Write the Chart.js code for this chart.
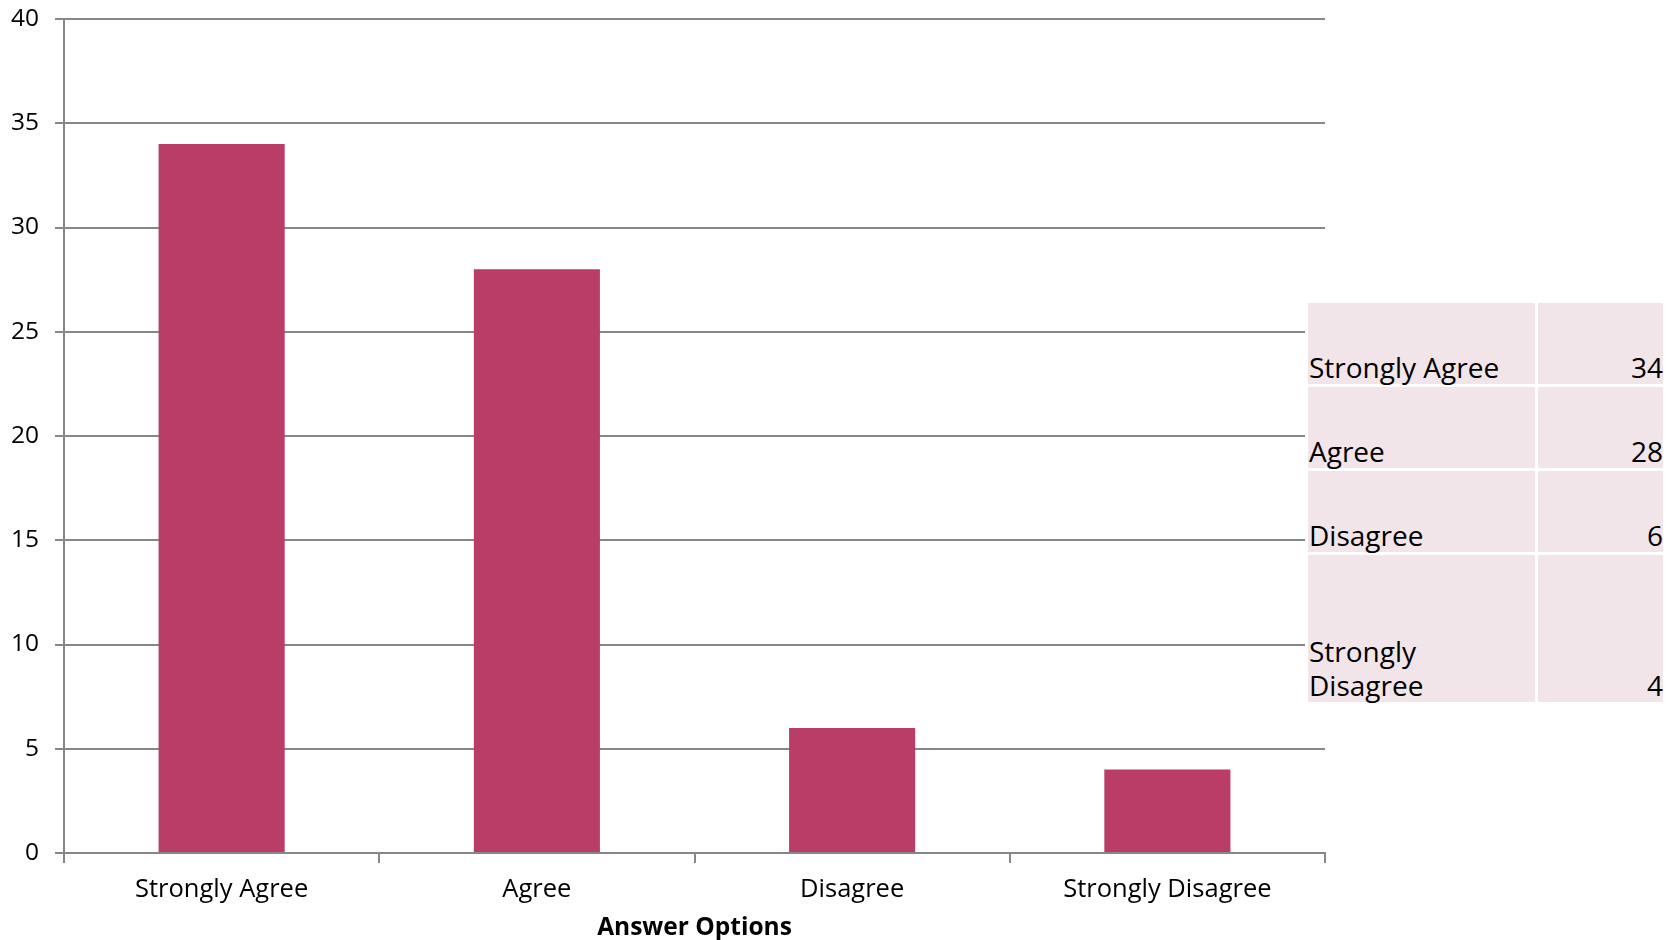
<!DOCTYPE html>
<html>
<head>
<meta charset="utf-8">
<script src="https://cdn.jsdelivr.net/npm/chart.js@4/dist/chart.umd.min.js"></script>
<style>
  html, body { margin: 0; padding: 0; background: #ffffff; }
  #wrap { position: relative; width: 1672px; height: 940px; }
  #chart { position: absolute; left: 0; top: 0; }
  #dataTable {
    position: absolute; left: 1305px; top: 300px;
    border-collapse: separate; border-spacing: 3px;
    background: #ffffff;
    font-family: "Open Sans", sans-serif; font-size: 28px; color: #000;
  }
  #dataTable td {
    background: #f2e5ea; vertical-align: bottom;
    line-height: 34px;
  }
  #dataTable td.label { width: 192px; padding: 0 34px 0 1px; }
  #dataTable td.value { width: 125px; padding: 0; text-align: right; }
</style>
</head>
<body>
<div id="wrap">
  <canvas id="chart" width="1672" height="940"></canvas>
  <table id="dataTable"></table>
</div>
<script>
// Survey responses per answer option
const categories = ["Strongly Agree", "Agree", "Disagree", "Strongly Disagree"];
const responses = [34, 28, 6, 4];
const yTicks = [0, 5, 10, 15, 20, 25, 30, 35, 40];
const rowHeights = [81, 81, 81, 147];

const gridGray = "#878787";
const barColor = "#b93d67";

new Chart(document.getElementById("chart"), {
  type: "bar",
  data: {
    labels: categories,
    datasets: [{
      data: responses,
      backgroundColor: barColor,
      borderWidth: 0,
      barPercentage: 0.4,
      categoryPercentage: 1.0
    }]
  },
  options: {
    responsive: false,
    animation: false,
    layout: { padding: { left: 0, top: 19, right: 347, bottom: 0 } },
    plugins: { legend: { display: false }, tooltip: { enabled: false } },
    scales: {
      x: {
        grid: { drawOnChartArea: false, drawTicks: true, tickLength: 10, color: gridGray, lineWidth: 2, offset: true },
        border: { color: gridGray, width: 2 },
        ticks: { color: "#000", padding: 11, font: { family: "Open Sans", size: 25.5 } },
        title: {
          display: true, text: "Answer Options", color: "#000",
          font: { family: "Open Sans", size: 24.5, weight: "bold", lineHeight: 1.0 },
          padding: { top: 0, bottom: 0 }
        },
        afterFit: (s) => { s.height = 87; s.paddingLeft = 0; s.paddingRight = 0; }
      },
      y: {
        min: yTicks[0], max: yTicks[yTicks.length - 1],
        afterBuildTicks: (s) => { s.ticks = yTicks.map(v => ({ value: v })); },
        grid: { color: gridGray, lineWidth: 2, tickLength: 9 },
        border: { color: gridGray, width: 2 },
        ticks: { color: "#000", padding: 16, font: { family: "Open Sans", size: 24.5 } },
        afterFit: (s) => { s.width = 64; s.paddingTop = 0; s.paddingBottom = 0; }
      }
    }
  }
});

// Data table beside the plot, built from the same arrays
const table = document.getElementById("dataTable");
categories.forEach((cat, i) => {
  const tr = document.createElement("tr");
  tr.style.height = rowHeights[i] + "px";
  const a = document.createElement("td");
  a.className = "label";
  a.textContent = cat;
  const b = document.createElement("td");
  b.className = "value";
  b.textContent = responses[i];
  tr.appendChild(a);
  tr.appendChild(b);
  table.appendChild(tr);
});
</script>
</body>
</html>
